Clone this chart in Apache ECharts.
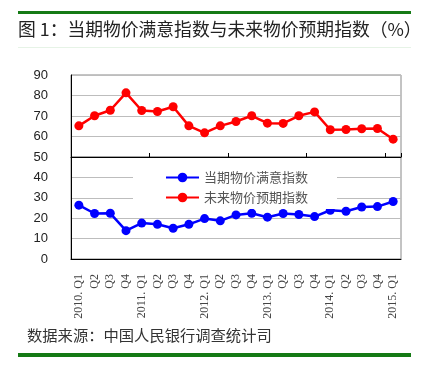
<!DOCTYPE html>
<html><head><meta charset="utf-8">
<script src="https://cdn.jsdelivr.net/npm/echarts@6/dist/echarts.min.js"></script>
<style>html,body{margin:0;padding:0;background:#fff}#c{width:433px;height:369px}</style>
</head><body><div id="c"></div>
<script>
const categories = ['2010. Q1','Q2','Q3','Q4','2011. Q1','Q2','Q3','Q4','2012. Q1','Q2','Q3','Q4','2013. Q1','Q2','Q3','Q4','2014. Q1','Q2','Q3','Q4','2015. Q1'];
const currentSatisfaction = [26.4,22.3,22.4,13.9,17.6,17.0,15.1,17.0,19.8,18.7,21.6,22.4,20.5,22.3,21.8,20.8,23.9,23.4,25.5,25.7,28.2];
const futureExpectation = [65.2,70.1,72.8,81.3,72.7,72.2,74.5,65.2,61.8,65.2,67.3,70.1,66.5,66.4,70.1,72.0,63.3,63.4,63.8,63.9,58.7];
const seriesNames = ['当期物价满意指数','未来物价预期指数'];
const titleText = '图 1：当期物价满意指数与未来物价预期指数（%）';
const sourceText = '数据来源：中国人民银行调查统计司';

const chart = echarts.init(document.getElementById('c'), null, {renderer:'canvas'});
const green = '#157a15';
const cjk = '"Noto Sans CJK SC", sans-serif';
chart.setOption({
  animation:false,
  backgroundColor:'#fff',
  graphic:[
    {type:'rect', shape:{x:18,y:11,width:393,height:3}, style:{fill:green}},
    {type:'text', left:18, top:20, style:{text:titleText, fontSize:17.8, fontFamily:cjk, fill:'#222'}},
    {type:'rect', shape:{x:18,y:47,width:393,height:1}, style:{fill:'#e6f3e6'}},
    {type:'text', left:27, top:328, style:{text:sourceText, fontSize:15.3, fontFamily:cjk, fill:'#333'}},
    {type:'rect', shape:{x:18,y:353,width:393,height:4}, style:{fill:green}}
  ],
  grid:[
    {left:71, right:32, top:75, height:82, show:true, borderColor:'#888', borderWidth:1},
    {left:71, right:32, top:157, height:102, show:true, borderColor:'#888', borderWidth:1}
  ],
  legend:{
    orient:'vertical', left:133, top:166,
    padding:[5,29,5,32], backgroundColor:'#fff',
    itemWidth:33, itemHeight:12, itemGap:7,
    textStyle:{fontSize:13, fontFamily:cjk, color:'#555'},
    data:[seriesNames[0], seriesNames[1]]
  },
  xAxis:[
    {gridIndex:0, type:'category', data:categories, boundaryGap:true,
     axisLine:{lineStyle:{color:'#000', width:1}},
     axisTick:{show:true, inside:true, length:4, lineStyle:{color:'#000'}},
     axisLabel:{show:false}, splitLine:{show:false}},
    {gridIndex:1, type:'category', data:categories, boundaryGap:true,
     axisLine:{lineStyle:{color:'#000', width:1}},
     axisTick:{show:false},
     axisLabel:{rotate:90, interval:0, fontSize:12, fontFamily:'"Liberation Serif", serif', color:'#444', margin:15},
     splitLine:{show:false}}
  ],
  yAxis:[
    {gridIndex:0, type:'value', min:50, max:90, interval:10,
     axisLine:{show:true, lineStyle:{color:'#000'}}, axisTick:{show:false},
     axisLabel:{fontSize:13, fontFamily:'"Liberation Sans", Arial, sans-serif', color:'#222', margin:23},
     splitLine:{lineStyle:{color:'#bdbdbd'}}},
    {gridIndex:1, type:'value', min:0, max:50, interval:10,
     axisLine:{show:true, lineStyle:{color:'#000'}}, axisTick:{show:false},
     axisLabel:{fontSize:13, fontFamily:'"Liberation Sans", Arial, sans-serif', color:'#222', margin:23, showMaxLabel:false,
       formatter:v => v===50 ? '' : String(v)},
     splitLine:{lineStyle:{color:'#bdbdbd'}}}
  ],
  series:[
    {name:seriesNames[0], type:'line', xAxisIndex:1, yAxisIndex:1, data:currentSatisfaction,
     color:'#0000ff', symbol:'circle', symbolSize:9, lineStyle:{width:2.5, color:'#0000ff'},
     itemStyle:{color:'#0000ff'}},
    {name:seriesNames[1], type:'line', xAxisIndex:0, yAxisIndex:0, data:futureExpectation,
     color:'#ff0000', symbol:'circle', symbolSize:9, lineStyle:{width:2.5, color:'#ff0000'},
     itemStyle:{color:'#ff0000'}}
  ]
});
</script></body></html>
